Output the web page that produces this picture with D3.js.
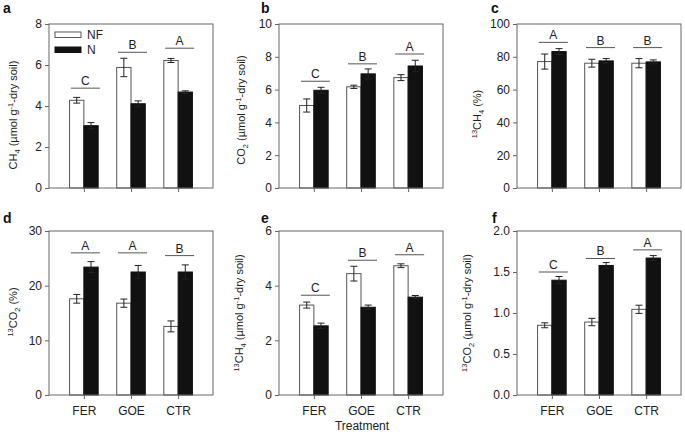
<!DOCTYPE html>
<html><head><meta charset="utf-8">
<script src="https://cdn.jsdelivr.net/npm/d3@7"></script>
<style>
html,body{margin:0;padding:0;background:#fff;}
svg{display:block;font-family:"Liberation Sans",Arial,sans-serif;}
</style></head>
<body><svg id="chart" width="685" height="434"></svg>
<script>
const categories = ["FER", "GOE", "CTR"];
const seriesNames = ["NF", "N"];

// a: CH4
const ch4NF = [4.28, 5.88, 6.22];
const ch4NFErr = [0.14, 0.45, 0.10];
const ch4N = [3.04, 4.11, 4.68];
const ch4NErr = [0.15, 0.14, 0.06];
const ch4Sig = ["C", "B", "A"];
const ch4SigY = [4.87, 6.62, 6.82];
const ch4Ticks = [0, 2, 4, 6, 8];

// b: CO2
const co2NF = [5.03, 6.17, 6.73];
const co2NFErr = [0.40, 0.10, 0.18];
const co2N = [5.96, 6.96, 7.44];
const co2NErr = [0.18, 0.30, 0.35];
const co2Sig = ["C", "B", "A"];
const co2SigY = [6.51, 7.57, 8.17];
const co2Ticks = [0, 2, 4, 6, 8, 10];

// c: 13CH4 (%)
const pch4NF = [77.1, 76.1, 76.1];
const pch4NFErr = [4.6, 2.4, 2.8];
const pch4N = [83.2, 77.5, 76.9];
const pch4NErr = [1.8, 1.4, 1.2];
const pch4Sig = ["A", "B", "B"];
const pch4SigY = [88.8, 85.6, 85.6];
const pch4Ticks = [0, 20, 40, 60, 80, 100];

// d: 13CO2 (%)
const pco2NF = [17.6, 16.8, 12.55];
const pco2NFErr = [0.8, 0.75, 1.0];
const pco2N = [23.4, 22.5, 22.5];
const pco2NErr = [1.0, 1.2, 1.3];
const pco2Sig = ["A", "A", "B"];
const pco2SigY = [26.0, 26.0, 25.5];
const pco2Ticks = [0, 10, 20, 30];

// e: 13CH4 (umol)
const ich4NF = [3.29, 4.44, 4.73];
const ich4NFErr = [0.11, 0.27, 0.07];
const ich4N = [2.53, 3.21, 3.58];
const ich4NErr = [0.10, 0.08, 0.06];
const ich4Sig = ["C", "B", "A"];
const ich4SigY = [3.65, 4.93, 5.13];
const ich4Ticks = [0, 2, 4, 6];

// f: 13CO2 (umol)
const ico2NF = [0.85, 0.89, 1.045];
const ico2NFErr = [0.03, 0.045, 0.05];
const ico2N = [1.40, 1.58, 1.67];
const ico2NErr = [0.045, 0.035, 0.03];
const ico2Sig = ["C", "B", "A"];
const ico2SigY = [1.50, 1.665, 1.77];
const ico2Ticks = [0, 0.5, 1.0, 1.5, 2.0];

const svg = d3.select("#chart");
const W = 164, H = 164;
const frameColor = "#666";
const textColor = "#222";

function labelParts(kind) {
  const umol = [{t:" (µmol g"}, {t:"-1", sup:true}, {t:"-dry soil)"}];
  if (kind === "ch4") return [{t:"CH"}, {t:"4", sub:true}].concat(umol);
  if (kind === "co2") return [{t:"CO"}, {t:"2", sub:true}].concat(umol);
  if (kind === "pch4") return [{t:"13", sup:true}, {t:"CH"}, {t:"4", sub:true}, {t:" (%)"}];
  if (kind === "pco2") return [{t:"13", sup:true}, {t:"CO"}, {t:"2", sub:true}, {t:" (%)"}];
  if (kind === "ich4") return [{t:"13", sup:true}, {t:"CH"}, {t:"4", sub:true}].concat(umol);
  if (kind === "ico2") return [{t:"13", sup:true}, {t:"CO"}, {t:"2", sub:true}].concat(umol);
}

function drawLabel(g, parts, x, y, size) {
  const t = g.append("text").attr("transform", `translate(${x},${y}) rotate(-90)`)
    .attr("text-anchor", "middle").attr("font-size", size).attr("fill", textColor);
  let shift = 0;
  parts.forEach(p => {
    const s = t.append("tspan").text(p.t);
    let target = p.sub ? 3 : (p.sup ? -4 : 0);
    s.attr("dy", target - shift);
    shift = target;
    if (p.sub || p.sup) s.attr("font-size", size * 0.68);
  });
}

function drawPanel(cfg) {
  const g = svg.append("g").attr("transform", `translate(${cfg.x},${cfg.y})`);
  const x = d3.scalePoint().domain(categories).range([0, W]).padding(0.74);
  const y = d3.scaleLinear().domain([0, cfg.ticks[cfg.ticks.length - 1]]).range([H, 0]);
  const bw = 14.3;

  const rows = categories.map((c, i) => ({c, nf: cfg.nf[i], nfe: cfg.nfe[i], n: cfg.n[i], ne: cfg.ne[i], sig: cfg.sig[i], sigY: cfg.sigY[i]}));
  rows.forEach(r => {
    const cx = x(r.c);
    g.append("rect").attr("x", cx - bw).attr("y", y(r.nf)).attr("width", bw).attr("height", H - y(r.nf))
      .attr("fill", "#fff").attr("stroke", "#555").attr("stroke-width", 1);
    g.append("rect").attr("x", cx).attr("y", y(r.n)).attr("width", bw).attr("height", H - y(r.n))
      .attr("fill", "#111").attr("stroke", "#111").attr("stroke-width", 1);
    [[cx - bw / 2, r.nf, r.nfe], [cx + bw / 2, r.n, r.ne]].forEach(([ex, v, e]) => {
      const eg = g.append("g").attr("stroke", "#222").attr("stroke-width", 1);
      eg.append("line").attr("x1", ex).attr("x2", ex).attr("y1", y(v - e)).attr("y2", y(v + e));
      eg.append("line").attr("x1", ex - 3.5).attr("x2", ex + 3.5).attr("y1", y(v + e)).attr("y2", y(v + e));
      eg.append("line").attr("x1", ex - 3.5).attr("x2", ex + 3.5).attr("y1", y(v - e)).attr("y2", y(v - e));
    });
    const sx = cx + 1.5;
    g.append("line").attr("x1", sx - 14.5).attr("x2", sx + 14.5).attr("y1", y(r.sigY)).attr("y2", y(r.sigY))
      .attr("stroke", "#555").attr("stroke-width", 1);
    g.append("text").attr("x", sx).attr("y", y(r.sigY) - 3).attr("text-anchor", "middle")
      .attr("font-size", 12).attr("fill", textColor).text(r.sig);
  });

  g.append("rect").attr("x", 0).attr("y", 0).attr("width", W).attr("height", H)
    .attr("fill", "none").attr("stroke", frameColor).attr("stroke-width", 1);

  const ya = g.append("g").call(d3.axisLeft(y).tickValues(cfg.ticks).tickFormat(cfg.fmt).tickSize(4).tickPadding(3));
  const xa = g.append("g").attr("transform", `translate(0,${H})`)
    .call(d3.axisBottom(x).tickSize(4).tickPadding(7).tickFormat(cfg.xlabels ? (d => d) : (() => "")));
  [ya, xa].forEach(a => {
    a.select(".domain").remove();
    a.selectAll("line").attr("stroke", frameColor);
    a.selectAll("text").attr("font-size", 12).attr("fill", textColor)
      .attr("font-family", '"Liberation Sans",Arial,sans-serif');
  });

  svg.append("text").attr("x", cfg.lx).attr("y", cfg.ly).attr("font-size", 14).attr("font-weight", "bold")
    .attr("fill", "#111").text(cfg.letter);

  drawLabel(svg, labelParts(cfg.label), cfg.labX, cfg.labY, 11);

  if (cfg.legend) {
    const lg = g.append("g");
    [0, 1].forEach(i => {
      lg.append("rect").attr("x", 6).attr("y", 8 + i * 15).attr("width", 26).attr("height", 5.5)
        .attr("fill", i === 0 ? "#fff" : "#111").attr("stroke", i === 0 ? "#555" : "#111");
      lg.append("text").attr("x", 38).attr("y", 14.5 + i * 15).attr("font-size", 12).attr("fill", textColor)
        .text(seriesNames[i]);
    });
  }
}

const fmt0 = d3.format("d"), fmt1 = d3.format(".1f");
drawPanel({x:49, y:24, letter:"a", lx:3, ly:13, label:"ch4", labX:17, labY:115, ticks:ch4Ticks, fmt:fmt0,
  nf:ch4NF, nfe:ch4NFErr, n:ch4N, ne:ch4NErr, sig:ch4Sig, sigY:ch4SigY, legend:true});
drawPanel({x:279, y:24, letter:"b", lx:261, ly:13, label:"co2", labX:245, labY:110, ticks:co2Ticks, fmt:fmt0,
  nf:co2NF, nfe:co2NFErr, n:co2N, ne:co2NErr, sig:co2Sig, sigY:co2SigY});
drawPanel({x:517, y:24, letter:"c", lx:491, ly:13, label:"pch4", labX:481, labY:114, ticks:pch4Ticks, fmt:fmt0,
  nf:pch4NF, nfe:pch4NFErr, n:pch4N, ne:pch4NErr, sig:pch4Sig, sigY:pch4SigY});
drawPanel({x:49, y:231, letter:"d", lx:3, ly:223, label:"pco2", labX:17, labY:312, ticks:pco2Ticks, fmt:fmt0,
  nf:pco2NF, nfe:pco2NFErr, n:pco2N, ne:pco2NErr, sig:pco2Sig, sigY:pco2SigY, xlabels:true});
drawPanel({x:279, y:231, letter:"e", lx:261, ly:223, label:"ich4", labX:243, labY:313, ticks:ich4Ticks, fmt:fmt0,
  nf:ich4NF, nfe:ich4NFErr, n:ich4N, ne:ich4NErr, sig:ich4Sig, sigY:ich4SigY, xlabels:true});
drawPanel({x:517, y:231, letter:"f", lx:492, ly:223, label:"ico2", labX:471, labY:313, ticks:ico2Ticks, fmt:fmt1,
  nf:ico2NF, nfe:ico2NFErr, n:ico2N, ne:ico2NErr, sig:ico2Sig, sigY:ico2SigY, xlabels:true});

svg.append("text").attr("x", 362).attr("y", 430).attr("text-anchor", "middle").attr("font-size", 12)
  .attr("fill", textColor).text("Treatment");
</script></body></html>
